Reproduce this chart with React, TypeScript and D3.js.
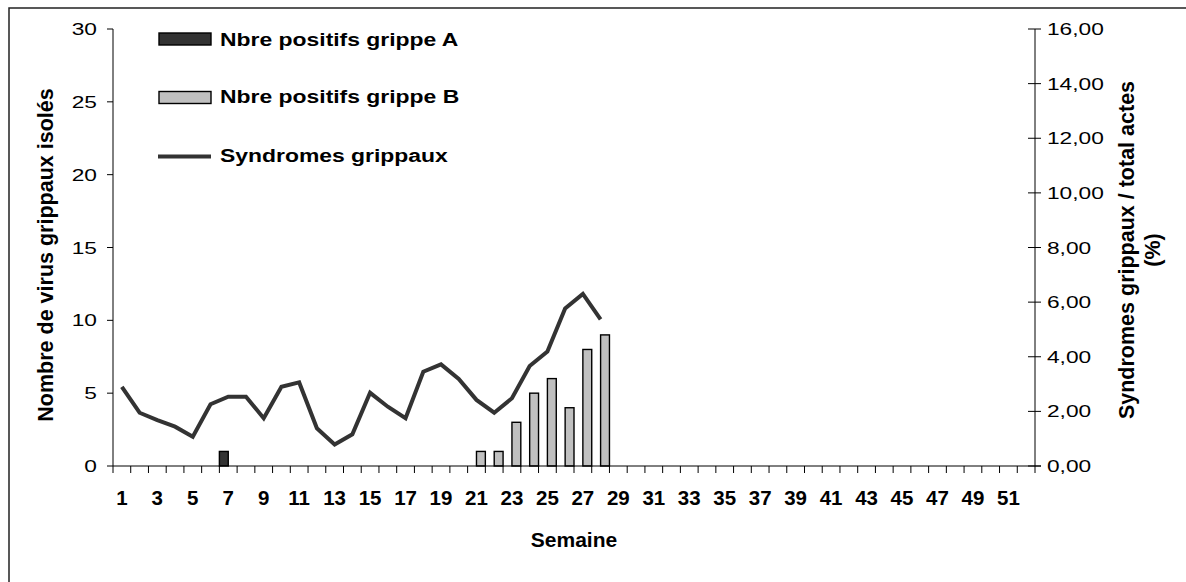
import React from "react";
import * as d3 from "d3";

const weeks: number[] = [
  1, 2, 3, 4, 5, 6, 7, 8, 9, 10, 11, 12, 13, 14, 15, 16, 17, 18, 19, 20, 21, 22, 23, 24, 25, 26,
  27, 28, 29, 30, 31, 32, 33, 34, 35, 36, 37, 38, 39, 40, 41, 42, 43, 44, 45, 46, 47, 48, 49, 50,
  51, 52,
];
// weeks 1..28
const grippeA: number[] = [0, 0, 0, 0, 0, 0, 1, 0, 0, 0, 0, 0, 0, 0, 0, 0, 0, 0, 0, 0, 0, 0, 0, 0, 0, 0, 0, 0];
const grippeB: number[] = [0, 0, 0, 0, 0, 0, 0, 0, 0, 0, 0, 0, 0, 0, 0, 0, 0, 0, 0, 0, 1, 1, 3, 5, 6, 4, 8, 9];
const syndromes: number[] = [
  2.9, 1.95, 1.68, 1.44, 1.07, 2.26, 2.54, 2.54, 1.75, 2.9, 3.06, 1.38, 0.79, 1.16, 2.68, 2.17,
  1.75, 3.45, 3.72, 3.19, 2.42, 1.95, 2.48, 3.66, 4.19, 5.77, 6.3, 5.37,
];
const leftTicks: number[] = [0, 5, 10, 15, 20, 25, 30];
const rightTicks: number[] = [0, 2, 4, 6, 8, 10, 12, 14, 16];
const seriesKeys: string[] = ["A", "B"];
const legendLabels: string[] = ["Nbre positifs grippe A", "Nbre positifs grippe B", "Syndromes grippaux"];

const FONT = "'Liberation Sans', Arial, Helvetica, sans-serif";
const W = 1186;
const H = 582;
const left = 113;
const right = 1035;
const top = 29;
const bottom = 466;

export default function App() {
  const x = d3.scaleBand<number>().domain(weeks).range([left, right]).paddingInner(0).paddingOuter(0);
  const xs = d3.scaleBand<string>().domain(seriesKeys).range([0, x.bandwidth()]).padding(0);
  const yL = d3.scaleLinear().domain([0, 30]).range([bottom, top]);
  const yR = d3.scaleLinear().domain([0, 16]).range([bottom, top]);
  const line = d3
    .line<number>()
    .x((_, i) => (x(weeks[i]) as number) + x.bandwidth() / 2)
    .y((d) => yR(d));
  const fmt = (v: number) => v.toFixed(2).replace(".", ",");

  const bars: { key: string; w: number; v: number }[] = [];
  grippeA.forEach((v, i) => v > 0 && bars.push({ key: "A", w: weeks[i], v }));
  grippeB.forEach((v, i) => v > 0 && bars.push({ key: "B", w: weeks[i], v }));
  const fills: Record<string, string> = { A: "#333333", B: "#c0c0c0" };

  return (
    <svg width={W} height={H} style={{ position: "absolute", left: 0, top: 0, background: "#fff" }} fontFamily={FONT}>
      <rect x={9} y={8} width={W + 20} height={H + 20} fill="#fff" stroke="#222" strokeWidth={1.5} />

      {/* bars */}
      {bars.map((b, i) => (
        <rect
          key={i}
          x={(x(b.w) as number) + (xs(b.key) as number)}
          y={yL(b.v)}
          width={xs.bandwidth()}
          height={bottom - yL(b.v)}
          fill={fills[b.key]}
          stroke="#000"
          strokeWidth={1.4}
        />
      ))}

      {/* line */}
      <path d={line(syndromes) as string} fill="none" stroke="#333333" strokeWidth={4} strokeLinejoin="miter" />

      {/* left axis */}
      <line x1={left} x2={left} y1={top} y2={bottom} stroke="#000" strokeWidth={1} />
      {leftTicks.map((t) => (
        <g key={t}>
          <line x1={left - 6} x2={left} y1={yL(t)} y2={yL(t)} stroke="#000" />
          <text
            transform={`translate(97,${yL(t) + 6}) scale(1.42,1)`}
            textAnchor="end"
            fontSize={16}
            fill="#000"
          >
            {t}
          </text>
        </g>
      ))}

      {/* right axis */}
      <line x1={right} x2={right} y1={top} y2={bottom} stroke="#000" strokeWidth={1} />
      {rightTicks.map((t) => (
        <g key={t}>
          <line x1={right - 7} x2={right + 6} y1={yR(t)} y2={yR(t)} stroke="#000" />
          <text transform={`translate(1047,${yR(t) + 6}) scale(1.42,1)`} textAnchor="start" fontSize={16} fill="#000">
            {fmt(t)}
          </text>
        </g>
      ))}

      {/* x axis */}
      <line x1={left} x2={right + 6} y1={bottom} y2={bottom} stroke="#000" strokeWidth={1} />
      {weeks.map((w) => (
        <line key={"t" + w} x1={x(w) as number} x2={x(w) as number} y1={bottom} y2={bottom + 7} stroke="#000" />
      ))}
      <line x1={right} x2={right} y1={bottom} y2={bottom + 7} stroke="#000" />
      {weeks
        .filter((w) => w % 2 === 1)
        .map((w) => (
          <text
            key={"l" + w}
            x={(x(w) as number) + x.bandwidth() / 2}
            y={505}
            textAnchor="middle"
            fontSize={20.5}
            fontWeight="bold"
            fill="#000"
          >
            {w}
          </text>
        ))}

      {/* axis titles */}
      <text x={574} y={547} textAnchor="middle" fontSize={21} fontWeight="bold" fill="#000">
        Semaine
      </text>
      <text
        transform={`translate(53,255) rotate(-90)`}
        textAnchor="middle"
        fontSize={21.5}
        fontWeight="bold"
        fill="#000"
      >
        Nombre de virus grippaux isolés
      </text>
      <text transform={`translate(1134,250) rotate(-90)`} textAnchor="middle" fontSize={21.5} fontWeight="bold" fill="#000">
        Syndromes grippaux / total actes
      </text>
      <text transform={`translate(1160,250) rotate(-90)`} textAnchor="middle" fontSize={21.5} fontWeight="bold" fill="#000">
        (%)
      </text>

      {/* legend */}
      <rect x={159} y={33} width={52} height={12} fill={fills.A} stroke="#000" strokeWidth={1.4} />
      <rect x={159} y={91.5} width={52} height={12} fill={fills.B} stroke="#000" strokeWidth={1.4} />
      <line x1={158} x2={211} y1={156.5} y2={156.5} stroke="#333333" strokeWidth={4} />
      {legendLabels.map((l, i) => (
        <text
          key={l}
          transform={`translate(220,${[46, 103, 161.5][i]}) scale(1.31,1)`}
          fontSize={17.5}
          fontWeight="bold"
          fill="#000"
        >
          {l}
        </text>
      ))}
    </svg>
  );
}
